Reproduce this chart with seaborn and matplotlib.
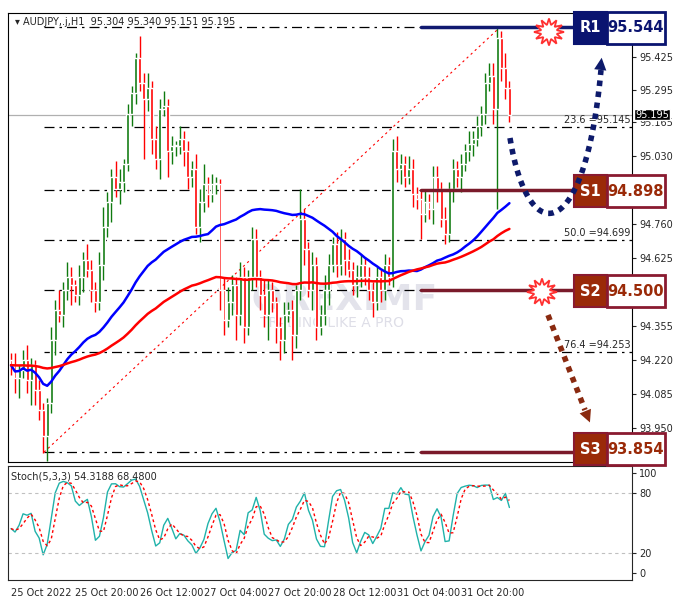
import numpy as np
import pandas as pd
import matplotlib
matplotlib.use("Agg")
import matplotlib.pyplot as plt
from matplotlib.patches import Rectangle, Polygon
import seaborn as sns

# hourly closes AUDJPY
closes = [94.20, 94.15, 94.18, 94.22, 94.14, 94.20, 94.10, 94.02, 93.92, 94.05,
          94.30, 94.42, 94.40, 94.50, 94.55, 94.52, 94.48, 94.55, 94.62, 94.58,
          94.50, 94.45, 94.60, 94.75, 94.85, 94.95, 94.90, 94.93, 95.00, 95.20,
          95.28, 95.42, 95.32, 95.26, 95.30, 95.10, 95.02, 95.22, 95.23, 95.05,
          95.07, 95.07, 95.10, 95.05, 94.95, 94.98, 94.75, 94.85, 94.92, 94.88,
          94.92, 94.92, 94.50, 94.38, 94.45, 94.52, 94.40, 94.55, 94.35, 94.55,
          94.70, 94.55, 94.48, 94.40, 94.50, 94.45, 94.35, 94.30, 94.40, 94.42,
          94.32, 94.50, 94.78, 94.66, 94.50, 94.60, 94.35, 94.40, 94.50, 94.60,
          94.68, 94.60, 94.70, 94.62, 94.58, 94.52, 94.55, 94.60, 94.55, 94.50,
          94.45, 94.55, 94.50, 94.60, 94.55, 95.05, 94.98, 95.00, 94.95, 94.98,
          94.88, 94.86, 94.80, 94.85, 94.82, 94.95, 94.90, 94.78, 94.72, 94.90,
          94.98, 94.95, 95.00, 95.05, 95.08, 95.10, 95.15, 95.20, 95.32, 95.35,
          95.22, 95.50, 95.38, 95.30, 95.195]
first_open = 94.22
# wick sizes in pips (0.01)
up_wick = [3, 5, 2, 4, 6, 3, 2, 4, 3, 2, 5, 4, 8, 3, 6, 4, 2, 5, 3, 6,
           4, 3, 5, 8, 4, 3, 6, 5, 2, 4, 3, 2, 9, 4, 6, 3, 5, 4, 6, 3,
           4, 2, 5, 3, 4, 3, 6, 5, 8, 3, 4, 3, 2, 5, 6, 4, 3, 6, 4, 3,
           5, 4, 3, 6, 4, 3, 2, 4, 5, 3, 4, 2, 12, 4, 3, 5, 3, 4, 6, 4,
           3, 5, 4, 3, 4, 3, 5, 4, 3, 4, 3, 4, 3, 4, 3, 5, 6, 4, 3, 5,
           4, 3, 4, 5, 3, 4, 4, 3, 5, 3, 4, 3, 4, 3, 5, 3, 4, 3, 4, 5,
           5, 4, 3, 6, 3]
dn_wick = [4, 6, 8, 3, 5, 10, 6, 4, 7, 10, 4, 6, 3, 5, 4, 8, 3, 4, 6, 3,
           5, 4, 3, 6, 4, 8, 3, 6, 4, 3, 5, 4, 3, 24, 5, 6, 4, 8, 3, 10,
           5, 4, 3, 6, 5, 4, 3, 6, 4, 5, 3, 4, 8, 6, 3, 5, 10, 4, 6, 3,
           5, 4, 6, 5, 10, 4, 6, 8, 5, 3, 10, 5, 4, 6, 3, 8, 5, 3, 4, 6,
           3, 5, 4, 6, 3, 4, 5, 4, 3, 4, 6, 3, 5, 4, 3, 4, 5, 6, 4, 3,
           5, 4, 10, 3, 4, 6, 5, 3, 4, 3, 5, 4, 6, 3, 4, 5, 3, 4, 4, 3,
           6, 40, 5, 4, 3]

tick_pos = [0, 16, 32, 48, 64, 80, 96, 112]
tick_lbl = ["25 Oct 2022", "25 Oct 20:00", "26 Oct 12:00", "27 Oct 04:00",
            "27 Oct 20:00", "28 Oct 12:00", "31 Oct 04:00", "31 Oct 20:00"]
price_ticks = [95.425, 95.295, 95.165, 95.030, 94.760, 94.625, 94.355, 94.220, 94.085, 93.950]
fib_levels = [95.544, 95.145, 94.898, 94.699, 94.500, 94.253, 93.854]
fib_labels = {95.145: "23.6 =95.145", 94.699: "50.0 =94.699", 94.253: "76.4 =94.253"}
levels = [("R1", 95.544), ("S1", 94.898), ("S2", 94.500), ("S3", 93.854)]

df = pd.DataFrame({"close": closes})
df["open"] = [first_open] + closes[:-1]
df["high"] = df[["open", "close"]].max(axis=1) + np.array(up_wick) / 100
df["low"] = df[["open", "close"]].min(axis=1) - np.array(dn_wick) / 100
df["i"] = np.arange(len(df))
df["ma_fast"] = df["close"].rolling(50, min_periods=1).mean()
df["ma_slow"] = df["close"].ewm(span=120, adjust=False).mean()
hh = df["high"].rolling(5, min_periods=1).max()
ll = df["low"].rolling(5, min_periods=1).min()
raw = 100 * (df["close"] - ll) / (hh - ll)
df["k"] = raw.rolling(3, min_periods=1).mean()
df["d"] = df["k"].rolling(3, min_periods=1).mean()

sns.set_style("white")
plt.rcParams["font.family"] = ["DejaVu Sans"]
FS = 7
W, H = 679, 603
fig = plt.figure(figsize=(W / 100, H / 100), dpi=100)
fig.patch.set_facecolor("white")

def px_axes(x0, y0, x1, y1):
    return fig.add_axes([x0 / W, 1 - y1 / H, (x1 - x0) / W, (y1 - y0) / H])

ax = px_axes(8, 13, 632, 462)
ax2 = px_axes(8, 466, 632, 580)
xlim = (-0.75, 154.5)

# candles
up = df["close"] >= df["open"]
cols = np.where(up, "#0f7a0f", "#ff0000")
ax.vlines(df["i"], df["low"], df["high"], colors=cols, lw=1, zorder=3)
ax.bar(df["i"], (df["close"] - df["open"]).abs().clip(lower=0.006),
       bottom=df[["open", "close"]].min(axis=1), width=0.72, color=cols, zorder=3)
sns.lineplot(data=df, x="i", y="ma_fast", ax=ax, color="#0000ff", lw=1.8, zorder=4)
sns.lineplot(data=df, x="i", y="ma_slow", ax=ax, color="#ff0000", lw=1.8, zorder=4)

# fib lines
for lv in fib_levels:
    ax.plot([8.2, xlim[1]], [lv, lv], color="black", lw=0.9, ls=(0, (8, 4, 2, 4)), zorder=2)
for lv, t in fib_labels.items():
    ax.text(xlim[1] - 0.3, lv + 0.008, t, ha="right", va="bottom", fontsize=FS)
ax.plot([8.2, 121.7], [93.854, 95.544], color="#ff0000", lw=0.8, ls=(0, (2, 3)), zorder=2)
ax.axhline(95.195, color="#b0b0b0", lw=0.9, zorder=1)
for name, lv in levels:
    c = "#101a70" if name == "R1" else "#7a1a2a"
    ax.plot([102, xlim[1]], [lv, lv], color=c, lw=2.5, zorder=5)

ax.set_xlim(*xlim)
ax.set_ylim(93.815, 95.600)
ax.yaxis.tick_right()
ax.set_yticks(price_ticks)
ax.set_yticklabels([f"{v:.3f}" for v in price_ticks], fontsize=FS)
ax.set_xticks([])
ax.set_xlabel("")
ax.set_ylabel("")
ax.tick_params(axis="y", length=3, pad=2)
ax.text(0.012, 0.99, "▾ AUDJPY,.j,H1  95.304 95.340 95.151 95.195", transform=ax.transAxes,
        fontsize=FS, va="top")
ax.text(0.52, 0.34, "FOREXIMF", transform=ax.transAxes, fontsize=26, color="#c8c8d8",
        alpha=0.5, ha="center", weight="bold", zorder=1)
ax.text(0.52, 0.30, "TRADING LIKE A PRO", transform=ax.transAxes, fontsize=10, color="#c8c8d8",
        alpha=0.6, ha="center", zorder=1)
for s in ax.spines.values():
    s.set_color("black")

# stochastic
sns.lineplot(data=df, x="i", y="k", ax=ax2, color="#20b2aa", lw=1)
sns.lineplot(data=df, x="i", y="d", ax=ax2, color="#ff0000", lw=1, ls=(0, (2, 2)))
for lv in (80, 20):
    ax2.axhline(lv, color="#c0c0c0", lw=0.8, ls=(0, (3, 3)))
ax2.set_xlim(*xlim)
ax2.set_ylim(-7, 107)
ax2.yaxis.tick_right()
ax2.set_yticks([0, 20, 80, 100])
ax2.set_yticklabels(["0", "20", "80", "100"], fontsize=FS)
ax2.set_xticks(tick_pos)
ax2.set_xticklabels(tick_lbl, fontsize=FS, ha="left")
ax2.tick_params(axis="x", length=4, pad=2)
ax2.tick_params(axis="y", length=3, pad=2)
ax2.set_xlabel("")
ax2.set_ylabel("")
ax2.text(0.005, 0.95, "Stoch(5,3,3) 54.3188 68.4800", transform=ax2.transAxes, fontsize=FS, va="top")

# overlay in pixel coords
ov = fig.add_axes([0, 0, 1, 1], zorder=10)
ov.set_xlim(0, W)
ov.set_ylim(H, 0)
ov.axis("off")
ov.patch.set_alpha(0)

boxes = {"R1": 12, "S1": 175, "S2": 275, "S3": 433}
for name, lv in levels:
    y0 = boxes[name]
    dark = "#0a1470" if name == "R1" else "#9a2a08"
    edge = "#0a1470" if name == "R1" else "#8a1a30"
    txt = "#0a1470" if name == "R1" else "#9a2a08"
    ov.add_patch(Rectangle((574, y0), 33, 32, facecolor=dark, edgecolor=edge, lw=1.5))
    ov.add_patch(Rectangle((607, y0), 58, 32, facecolor="white", edgecolor=edge, lw=2))
    ov.text(590.5, y0 + 16, name, color="white", fontsize=10.5, weight="bold", ha="center", va="center")
    ov.text(636, y0 + 16, f"{lv:.3f}", color=txt, fontsize=10.5, weight="bold", ha="center", va="center")

# current price tag
ov.add_patch(Rectangle((634, 109), 36, 11, facecolor="black"))
ov.text(652, 114.5, "95.195", color="white", fontsize=FS, ha="center", va="center")

# starbursts
for cx, cy in [(549, 32), (542, 292)]:
    ang = np.linspace(0, 2 * np.pi, 25)[:-1]
    r = np.where(np.arange(24) % 2 == 0, 15, 8)
    pts = np.c_[cx + r * np.cos(ang), cy + r * np.sin(ang) * 0.9]
    ov.add_patch(Polygon(pts, closed=True, facecolor="white", edgecolor="#ff3030", lw=1.3))

# projected paths
t = np.linspace(0, 1, 60)
p0, c1, c2, p3 = map(np.array, [(510, 138), (528, 250), (585, 245), (601, 70)])
bez = ((1 - t) ** 3)[:, None] * p0 + (3 * (1 - t) ** 2 * t)[:, None] * c1 + \
      (3 * (1 - t) * t ** 2)[:, None] * c2 + (t ** 3)[:, None] * p3
ov.plot(bez[:, 0], bez[:, 1], color="#0d1a6b", lw=4, ls=(0, (1, 1)))
ov.annotate("", xy=(602, 55), xytext=(600, 72),
            arrowprops=dict(arrowstyle="-|>", color="#0d1a6b", mutation_scale=22, lw=0))
ov.plot([548, 585], [315, 410], color="#8a2a10", lw=4, ls=(0, (1, 1)))
ov.annotate("", xy=(591, 425), xytext=(584, 408),
            arrowprops=dict(arrowstyle="-|>", color="#8a2a10", mutation_scale=22, lw=0))

fig.savefig("out.png", dpi=100)
